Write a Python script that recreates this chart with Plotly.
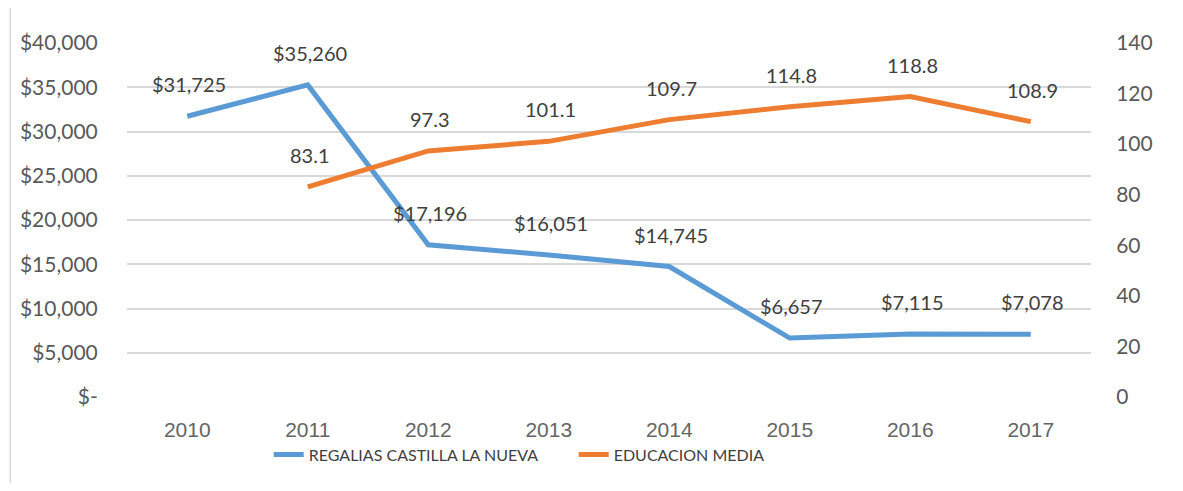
import plotly.graph_objects as go

years = ["2010", "2011", "2012", "2013", "2014", "2015", "2016", "2017"]
regalias = [31725, 35260, 17196, 16051, 14745, 6657, 7115, 7078]
edu_years = ["2011", "2012", "2013", "2014", "2015", "2016", "2017"]
educacion = [83.1, 97.3, 101.1, 109.7, 114.8, 118.8, 108.9]

left_ticks = [0, 5000, 10000, 15000, 20000, 25000, 30000, 35000, 40000]
left_ticktext = ["$-", "$5,000", "$10,000", "$15,000", "$20,000", "$25,000", "$30,000", "$35,000", "$40,000"]
right_ticks = [0, 20, 40, 60, 80, 100, 120, 140]

BLUE = "#5B9BD5"
ORANGE = "#ED7D31"
FONT = "Lato"

# page has an 8px body margin; figure sized to fit inside the window
OFF = 8
W, H = 1183 - 2 * OFF, 491 - 2 * OFF
L, T = 125 - OFF, 43 - OFF
R = W - (1091 - OFF)
B = H - (400 - OFF)

fig = go.Figure()
fig.add_trace(go.Scatter(x=years, y=regalias, mode="lines", name="REGALIAS CASTILLA LA NUEVA",
                         line=dict(color=BLUE, width=5), yaxis="y"))
fig.add_trace(go.Scatter(x=edu_years, y=educacion, mode="lines", name="EDUCACION MEDIA",
                         line=dict(color=ORANGE, width=5), yaxis="y2"))

annotations = []
for x, v in zip(years, regalias):
    annotations.append(dict(x=years.index(x), y=v, xref="x", yref="y", text=f"${v:,}", showarrow=False,
                            yshift=32, xshift=2, font=dict(family=FONT, size=20, color="#404040")))
for x, v in zip(edu_years, educacion):
    annotations.append(dict(x=years.index(x), y=v, xref="x", yref="y2", text=f"{v}", showarrow=False,
                            yshift=32, xshift=2, font=dict(family=FONT, size=20, color="#404040")))

pw = W - L - R
ph = H - T - B
x0 = (8 - 125) / pw
y1 = (400 - 6) / ph

fig.update_layout(
    width=W, height=H,
    margin=dict(l=L, r=R, t=T, b=B),
    paper_bgcolor="white", plot_bgcolor="white",
    showlegend=True,
    legend=dict(orientation="h", x=(267 - 125) / pw, xanchor="left", y=(400 - 458) / ph, yanchor="middle",
                font=dict(family=FONT, size=16, color="#404040"),
                entrywidth=260, entrywidthmode="pixels",
                bgcolor="rgba(0,0,0,0)"),
    xaxis=dict(type="category", categoryorder="array", categoryarray=years, range=[-0.5, 7.5],
               showgrid=False, zeroline=False, showline=False,
               ticks="outside", ticklen=14, tickcolor="rgba(0,0,0,0)",
               tickfont=dict(family="Liberation Sans", size=21, color="#656565")),
    yaxis=dict(range=[0, 40000], tickvals=left_ticks, ticktext=left_ticktext,
               showgrid=True, gridcolor="#D9D9D9", gridwidth=1.5, zeroline=False, showline=False,
               ticks="outside", ticklen=24, tickcolor="rgba(0,0,0,0)",
               tickfont=dict(family=FONT, size=21, color="#595959")),
    yaxis2=dict(range=[0, 140], tickvals=right_ticks, overlaying="y", side="right",
                showgrid=False, zeroline=False, showline=False,
                ticks="outside", ticklen=20, tickcolor="rgba(0,0,0,0)",
                tickfont=dict(family=FONT, size=21, color="#595959")),
    annotations=annotations,
    shapes=[dict(type="rect", xref="paper", yref="paper", x0=x0, x1=2, y0=-2, y1=y1,
                 line=dict(color="#D9D9D9", width=1.5), fillcolor="rgba(0,0,0,0)", layer="below")],
)

fig.write_html("out.html")
